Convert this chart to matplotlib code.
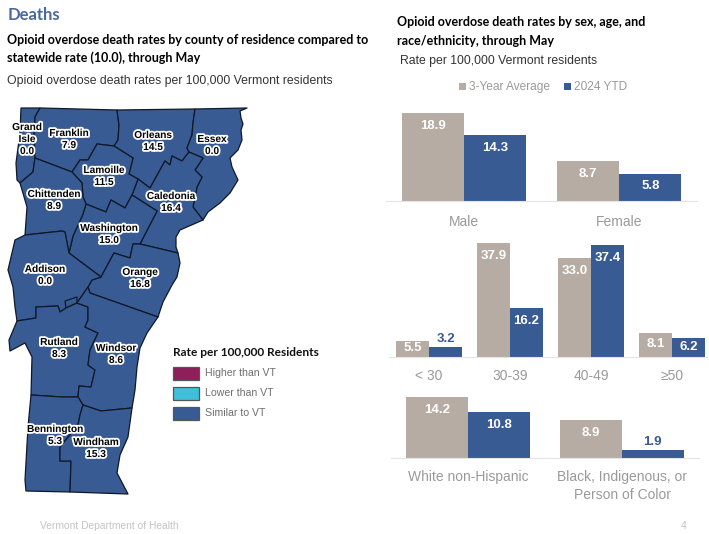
import matplotlib
matplotlib.use('Agg')
import matplotlib.pyplot as plt
import matplotlib.patheffects as pe
from matplotlib.patches import Polygon, Rectangle
import numpy as np

W, H = 709, 534

BLUE = '#385B94'
BEIGE = '#B6ACA3'
GREY_TEXT = '#9A9A9A'
MAROON = '#8E1F5B'
CYAN = '#3FBFD8'

BODY = ['Liberation Sans', 'DejaVu Sans']
HEAD = ['Lato', 'Liberation Sans', 'DejaVu Sans']

# Bar chart values
sex_labels = ['Male', 'Female']
sex_avg = [18.9, 8.7]
sex_ytd = [14.3, 5.8]

age_labels = ['< 30', '30-39', '40-49', '≥50']
age_avg = [5.5, 37.9, 33.0, 8.1]
age_ytd = [3.2, 16.2, 37.4, 6.2]

race_labels = ['White non-Hispanic', 'Black, Indigenous, or\nPerson of Color']
race_avg = [14.2, 8.9]
race_ytd = [10.8, 1.9]

# County rates
county_rates = {
    'Grand\nIsle': 0.0, 'Franklin': 7.9, 'Orleans': 14.5, 'Essex': 0.0,
    'Lamoille': 11.5, 'Chittenden': 8.9, 'Caledonia': 16.4, 'Washington': 15.0,
    'Addison': 0.0, 'Orange': 16.8, 'Rutland': 8.3, 'Windsor': 8.6,
    'Bennington': 5.3, 'Windham': 15.3,
}

# Label anchors for the counties, in page pixels
county_label_xy = {
    'Grand\nIsle': (27, 139), 'Franklin': (69, 139), 'Orleans': (153, 141), 'Essex': (212, 145),
    'Lamoille': (104, 176), 'Chittenden': (54, 200), 'Caledonia': (171, 202), 'Washington': (109, 234),
    'Addison': (45, 275), 'Orange': (140, 278), 'Rutland': (59, 348), 'Windsor': (116, 354),
    'Bennington': (55, 435), 'Windham': (96, 448),
}

# County outlines, in page pixels
county_shapes = {
    'Grand\nIsle': [(21, 108), (40, 108), (35, 117), (34, 135), (35, 158), (33, 172), (20, 183),
                    (17, 180), (16, 163), (20, 133)],
    'Franklin': [(40, 108), (117, 110), (119, 125), (118, 140), (114, 146), (97, 144), (88, 160),
                 (80, 160), (72, 172), (35, 158), (34, 135), (35, 117)],
    'Orleans': [(117, 110), (195, 109), (193, 123), (192, 135), (187, 148), (189, 152), (182, 161),
                (172, 156), (170, 165), (165, 161), (150, 188), (138, 179), (129, 174), (133, 158),
                (114, 146), (118, 140), (119, 125)],
    'Essex': [(195, 109), (247, 108), (240, 111), (241, 118), (243, 124), (241, 130), (242, 140),
              (238, 150), (230, 158), (232, 167), (238, 180), (230, 193), (220, 203), (208, 212),
              (203, 220), (193, 207), (197, 187), (202, 177), (195, 170), (203, 158), (189, 152),
              (187, 148), (192, 135), (193, 123)],
    'Caledonia': [(189, 152), (203, 158), (195, 170), (202, 177), (197, 187), (193, 207), (203, 220),
                  (180, 230), (176, 237), (176, 247), (178, 253), (140, 244), (157, 211), (132, 195),
                  (138, 179), (150, 188), (165, 161), (170, 165), (172, 156), (182, 161)],
    'Lamoille': [(97, 144), (114, 146), (133, 158), (129, 174), (138, 179), (132, 195), (125, 208),
                 (111, 200), (106, 212), (86, 204), (83, 197), (82, 183), (72, 172), (80, 160), (88, 160)],
    'Washington': [(86, 204), (106, 212), (111, 200), (125, 208), (132, 195), (157, 211), (140, 244),
                   (133, 244), (130, 258), (114, 253), (101, 277), (69, 253), (73, 236), (79, 223), (83, 214)],
    'Orange': [(133, 244), (140, 244), (178, 253), (180, 263), (177, 277), (172, 285), (163, 302),
               (158, 317), (90, 293), (88, 287), (92, 280), (101, 277), (114, 253), (130, 258)],
    'Chittenden': [(35, 158), (72, 172), (82, 183), (83, 197), (86, 204), (83, 214), (79, 223), (73, 236),
                   (69, 253), (65, 232), (62, 231), (25, 235), (27, 207), (20, 183), (33, 172)],
    'Addison': [(25, 235), (62, 231), (65, 232), (69, 253), (101, 277), (92, 280), (88, 287), (77, 303),
                (66, 308), (60, 312), (58, 306), (36, 307),
                (36, 318), (17, 321), (15, 307), (13, 287), (8, 270), (15, 240)],
    'Addison_notch': [(77, 303), (77, 297), (65, 301), (66, 308)],
    'Rutland': [(36, 307), (58, 306), (60, 312), (66, 308), (77, 303), (88, 307), (88, 320), (85, 327),
                (98, 333), (90, 350), (88, 365), (95, 370), (91, 387), (79, 386), (78, 397), (62, 397),
                (31, 395), (32, 357), (25, 343), (10, 351), (9, 340), (17, 321), (36, 318)],
    'Windsor': [(77, 303), (88, 287), (90, 293), (158, 317), (147, 333), (140, 348), (137, 367),
                (135, 390), (132, 408), (101, 411), (83, 405), (78, 397), (79, 386), (91, 387),
                (95, 370), (88, 365), (90, 350), (98, 333), (85, 327), (88, 320), (88, 307)],
    'Bennington': [(31, 395), (62, 397), (78, 397), (83, 405), (80, 415), (78, 425), (60, 447), (60, 461),
                   (71, 461), (70, 492), (26, 491), (25, 480), (28, 427)],
    'Windham': [(83, 405), (101, 411), (132, 408), (128, 437), (120, 455), (117, 473), (128, 494),
                (70, 492), (71, 461), (60, 461), (60, 447), (78, 425), (80, 415)],
}

legend_names = ['Higher than VT', 'Lower than VT', 'Similar to VT']
legend_colors = [MAROON, CYAN, BLUE]


def px_axes(fig, left, top, right, bottom):
    return fig.add_axes([left / W, 1 - bottom / H, (right - left) / W, (bottom - top) / H])


def draw_bars(fig, box, xlim, ymax, labels, avg, ytd, width, tick_pad):
    ax = px_axes(fig, *box)
    x = np.arange(len(labels))
    b1 = ax.bar(x - width / 2, avg, width, color=BEIGE)
    b2 = ax.bar(x + width / 2, ytd, width, color=BLUE)
    ax.set_xlim(*xlim)
    ax.set_ylim(0, ymax)
    px_per_unit = (box[3] - box[1]) / ymax
    for bars in (b1, b2):
        for bar in bars:
            val = bar.get_height()
            cx = bar.get_x() + bar.get_width() / 2
            h = val * px_per_unit
            if val < 4:
                ax.annotate(f'{val:.1f}', (cx, val), xytext=(0, 1.5), textcoords='offset points',
                            ha='center', va='bottom', color=BLUE, fontsize=9.5,
                            fontweight='bold', family=BODY)
            else:
                off = min(13, 0.45 * h) * 0.72
                ax.annotate(f'{val:.1f}', (cx, val), xytext=(0, -off), textcoords='offset points',
                            ha='center', va='center', color='white', fontsize=9.5,
                            fontweight='bold', family=BODY)
    ax.set_xticks(x)
    ax.set_xticklabels(labels, color=GREY_TEXT, fontsize=10, family=BODY, linespacing=1.3)
    ax.tick_params(axis='x', length=0, pad=tick_pad)
    ax.set_yticks([])
    for side in ['top', 'left', 'right']:
        ax.spines[side].set_visible(False)
    ax.spines['bottom'].set_color('#E4E4E4')
    ax.spines['bottom'].set_linewidth(0.8)
    ax.patch.set_alpha(0)
    return ax


def main():
    fig = plt.figure(figsize=(W / 100, H / 100), dpi=100, facecolor='white')

    # Full page layer in pixel coordinates, for the map and free text
    page = fig.add_axes([0, 0, 1, 1])
    page.set_xlim(0, W)
    page.set_ylim(H, 0)
    page.axis('off')

    page.text(8, 15, 'Deaths', color='#4A6A9E', fontsize=12, fontweight='bold', family=HEAD, va='center')
    page.text(7, 40, 'Opioid overdose death rates by county of residence compared to', color='black',
              fontsize=9, fontweight='bold', family=HEAD, va='center')
    page.text(7, 58, 'statewide rate (10.0), through May', color='black',
              fontsize=9, fontweight='bold', family=HEAD, va='center')
    page.text(7, 81, 'Opioid overdose death rates per 100,000 Vermont residents', color='#333333',
              fontsize=8.8, family=BODY, va='center')

    page.text(397, 22, 'Opioid overdose death rates by sex, age, and', color='black',
              fontsize=9, fontweight='bold', family=HEAD, va='center')
    page.text(397, 41, 'race/ethnicity, through May', color='black',
              fontsize=9, fontweight='bold', family=HEAD, va='center')
    page.text(400, 61, 'Rate per 100,000 Vermont residents', color='#333333',
              fontsize=8.8, family=BODY, va='center')

    # Counties
    for name, shape in county_shapes.items():
        page.add_patch(Polygon(shape, closed=True, facecolor=BLUE, edgecolor='#101828',
                               linewidth=0.9, joinstyle='round'))
    halo = [pe.withStroke(linewidth=2.6, foreground='white')]
    for name, rate in county_rates.items():
        lx, ly = county_label_xy[name]
        page.text(lx, ly, f'{name}\n{rate:.1f}', ha='center', va='center', color='black',
                  fontsize=7.3, fontweight='bold', family=BODY, linespacing=1.25, path_effects=halo)

    # Map legend
    page.text(173, 353, 'Rate per 100,000 Residents', color='#111111', fontsize=8.6,
              fontweight='bold', family=HEAD, va='center')
    for i, (name, col) in enumerate(zip(legend_names, legend_colors)):
        y = 367 + i * 20
        page.add_patch(Rectangle((173, y), 26, 12.5, facecolor=col, edgecolor='#555555', linewidth=0.9))
        page.text(205, y + 6.5, name, color='#6E6E6E', fontsize=7.6, family=BODY, va='center')

    # Bar legend
    page.add_patch(Rectangle((459, 83), 7, 7, facecolor=BEIGE, edgecolor='none'))
    page.text(469, 87, '3-Year Average', color=GREY_TEXT, fontsize=8.6, family=BODY, va='center')
    page.add_patch(Rectangle((564, 83), 7, 7, facecolor=BLUE, edgecolor='none'))
    page.text(574, 87, '2024 YTD', color=GREY_TEXT, fontsize=8.6, family=BODY, va='center')

    # Footer
    page.text(40, 526, 'Vermont Department of Health', color='#C4C4C4', fontsize=7.4, family=BODY, va='center')
    page.text(681, 526, '4', color='#C4C4C4', fontsize=7.5, family=BODY, va='center')

    # Bar panels
    draw_bars(fig, (386, 106, 697, 201), (-0.5, 1.5), 95 / 4.65, sex_labels, sex_avg, sex_ytd, 0.4, 10)
    draw_bars(fig, (388.5, 237, 707, 357), (-0.5, 3.43), 40, age_labels, age_avg, age_ytd, 0.407, 8.5)
    draw_bars(fig, (391, 390, 699, 458), (-0.5, 1.5), 68 / 4.3, race_labels, race_avg, race_ytd, 0.4, 9)

    plt.savefig('out.png', dpi=100)
    plt.close()


if __name__ == '__main__':
    main()
